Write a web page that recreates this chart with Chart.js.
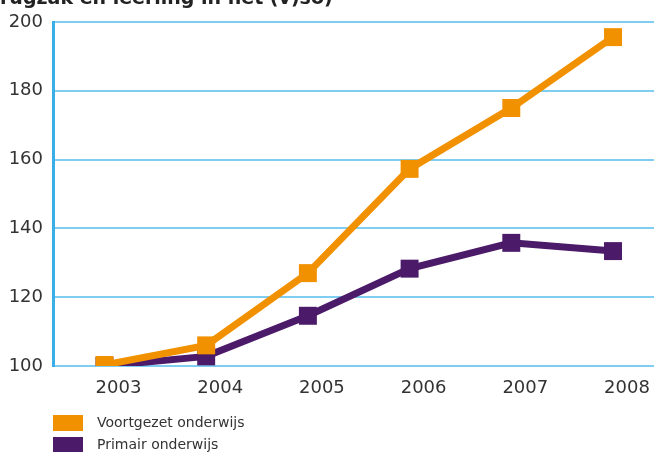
<!DOCTYPE html>
<html>
<head>
<meta charset="utf-8">
<script src="https://cdn.jsdelivr.net/npm/chart.js@4"></script>
<style>
  html, body { margin: 0; padding: 0; background: #fff; }
  body { width: 654px; height: 452px; position: relative; overflow: hidden; font-family: "DejaVu Sans", Verdana, sans-serif; }
  #title { position: absolute; left: 0; top: -13px; font-size: 19px; line-height: 20px; font-weight: bold; color: #222; white-space: nowrap; }
  #wrap { position: absolute; left: 0; top: 0; width: 654px; height: 452px; }
  .legend { position: absolute; left: 53px; font-size: 14px; color: #333; }
  .legend .row { position: absolute; left: 0; white-space: nowrap; height: 16px; }
  .legend .box { position: absolute; left: 0; top: 0; width: 30px; height: 16px; }
  .legend .txt { position: absolute; left: 44px; top: -1px; line-height: 16px; }
</style>
</head>
<body>
<div id="wrap"><canvas id="chart" width="654" height="452"></canvas></div>
<div id="title">rugzak en leerling in het (v)so)</div>
<div class="legend" id="legend"></div>
<script>
const years = [2003, 2004, 2005, 2006, 2007, 2008];
const voortgezet = [100.3, 106, 127, 157.3, 175, 195.6];
const primair = [100, 102.8, 114.6, 128.3, 135.8, 133.4];
const yTicks = [100, 120, 140, 160, 180, 200];

const seriesNames = ['Voortgezet onderwijs', 'Primair onderwijs'];
const seriesColors = ['#f29100', '#4b1a69'];

function toPoints(values) {
  return years.map((y, i) => ({ x: y, y: values[i] }));
}

function makeDataset(label, values, color) {
  return {
    label,
    data: toPoints(values),
    borderColor: color,
    backgroundColor: color,
    borderWidth: 7,
    tension: 0,
    pointStyle: 'rect',
    pointRadius: 12.7,
    pointHoverRadius: 12.7,
    pointBorderWidth: 0,
    pointBackgroundColor: color,
  };
}

new Chart(document.getElementById('chart'), {
  type: 'line',
  data: {
    datasets: [
      makeDataset(seriesNames[0], voortgezet, seriesColors[0]),
      makeDataset(seriesNames[1], primair, seriesColors[1]),
    ],
  },
  options: {
    responsive: false,
    animation: false,
    layout: { autoPadding: false, padding: { top: 22, right: 0, bottom: 0, left: 0 } },
    plugins: { legend: { display: false }, tooltip: { enabled: false } },
    scales: {
      x: {
        type: 'linear',
        min: 2002.494,
        max: 2008.403,
        afterBuildTicks: (scale) => { scale.ticks = years.map((v) => ({ value: v })); },
        afterFit: (scale) => {
          scale.height = 86;
          scale.paddingLeft = 0;
          scale.paddingRight = 0;
        },
        grid: { display: false, drawTicks: false },
        border: { display: false },
        ticks: {
          padding: 12,
          labelOffset: 14,
          color: '#333',
          font: { family: 'DejaVu Sans', size: 18 },
          callback: (v) => String(v),
        },
      },
      y: {
        min: 100,
        max: 200,
        afterBuildTicks: (scale) => { scale.ticks = yTicks.map((v) => ({ value: v })); },
        afterFit: (scale) => { scale.width = 53; },
        grid: { color: '#7fcdf0', lineWidth: 2, drawTicks: false },
        border: { display: true, color: '#3aaee6', width: 3 },
        ticks: {
          padding: 10,
          color: '#333',
          font: { family: 'DejaVu Sans', size: 18 },
        },
      },
    },
  },
});

const legend = document.getElementById('legend');
const legendTops = [415, 437];
seriesNames.forEach((name, i) => {
  const row = document.createElement('div');
  row.className = 'row';
  row.style.top = legendTops[i] + 'px';
  row.innerHTML = `<span class="box" style="background:${seriesColors[i]}"></span><span class="txt">${name}</span>`;
  legend.appendChild(row);
});
</script>
</body>
</html>
